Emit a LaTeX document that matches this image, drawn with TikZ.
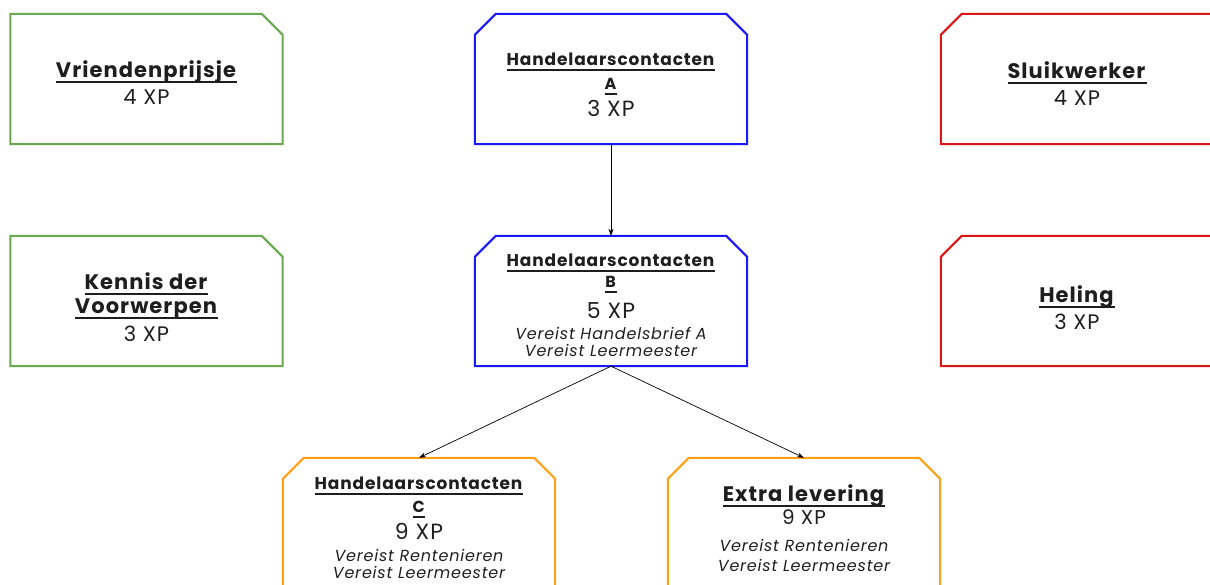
\documentclass[tikz,border=0pt]{standalone}
\usepackage{fontspec}
\setmainfont{Poppins}[LetterSpace=5]
\usetikzlibrary{arrows.meta}

\definecolor{groenrand}{RGB}{106,168,79}
\definecolor{blauwrand}{RGB}{25,25,245}
\definecolor{roodrand}{RGB}{220,20,20}
\definecolor{oranjerand}{RGB}{255,160,20}
\definecolor{inkt}{RGB}{30,30,30}

\newsavebox\titelbox
\newcommand{\titel}[1]{\sbox\titelbox{\textbf{#1}}\rlap{\rule[-4.8pt]{\wd\titelbox}{1.6pt}}\usebox\titelbox}
\newcommand{\groot}[1]{{\fontsize{21}{21}\selectfont\titel{#1}}}
\newcommand{\handel}[1]{{\fontsize{17}{17}\selectfont\titel{#1}}}
\newcommand{\letter}[1]{{\fontsize{16}{16}\selectfont\titel{#1}}}
\newcommand{\xp}[2]{{\fontsize{#1}{#1}\selectfont #2 XP}}
\newcommand{\vereist}[1]{{\fontsize{16}{16}\selectfont\itshape Vereist #1}}
% rand met afgeschuinde hoeken: naam, kleur, schuinte links, schuinte rechts
\newcommand{\vakrand}[4]{\draw[rand, #2] ([yshift=-#3]#1.north west) -- ([xshift=#3]#1.north west)
  -- ([xshift=-#4]#1.north east) -- ([yshift=-#4]#1.north east) -- (#1.south east) -- (#1.south west) -- cycle;}

\begin{document}
\begin{tikzpicture}[>=Stealth, x=1pt, y=-1pt,
  vak/.style={rectangle, inner sep=0pt, minimum width=272pt, minimum height=130pt},
  rand/.style={line width=2pt, line join=miter},
  tekst/.style={anchor=base, align=center, inner sep=0pt, text=inkt,
    font=\fontsize{16}{17}\selectfont\lineskiplimit-100pt},
  pijl/.style={->, line width=0.7pt, >={Stealth[length=7pt,width=5pt]}}]
\useasboundingbox (0,0) rectangle (1210,585);

% linker kolom
\node[vak] (vriend) at (146.5,79) {};
\vakrand{vriend}{groenrand}{0pt}{21pt}
\node[tekst] (vriendT) at ([yshift=-91pt]vriend.north) {\groot{Vriendenprijsje}\\[10pt]\xp{21}{4}};
\node[vak] (kennis) at (146.5,301) {};
\vakrand{kennis}{groenrand}{0pt}{21pt}
\node[tekst] (kennisT) at ([yshift=-106pt]kennis.north) {\groot{Kennis der}\\[7pt]\groot{Voorwerpen}\\[11pt]\xp{21}{3}};

% middelste kolom
\node[vak] (handelA) at (611,79) {};
\vakrand{handelA}{blauwrand}{21pt}{21pt}
\node[tekst] (handelAT) at ([yshift=-103pt]handelA.north) {\handel{Handelaarscontacten}\\[7pt]\letter{A}\\[10pt]\xp{22}{3}};
\node[vak] (handelB) at (611,301) {};
\vakrand{handelB}{blauwrand}{21pt}{21pt}
\node[tekst] (handelBT) at ([yshift=-121pt]handelB.north) {\handel{Handelaarscontacten}\\[4pt]\letter{B}\\[14pt]\xp{22}{5}\\[4pt]\vereist{Handelsbrief A}\\\vereist{Leermeester}};

% rechter kolom
\node[vak] (sluik) at (1077,79) {};
\vakrand{sluik}{roodrand}{21pt}{0pt}
\node[tekst] (sluikT) at ([yshift=-92pt]sluik.north) {\groot{Sluikwerker}\\[10pt]\xp{21}{4}};
\node[vak] (heling) at (1077,301) {};
\vakrand{heling}{roodrand}{21pt}{0pt}
\node[tekst] (helingT) at ([yshift=-94pt]heling.north) {\groot{Heling}\\[10pt]\xp{21}{3}};

% onderste rij
\node[vak] (handelC) at (419,523) {};
\vakrand{handelC}{oranjerand}{21pt}{21pt}
\node[tekst] (handelCT) at ([yshift=-121pt]handelC.north) {\handel{Handelaarscontacten}\\[6pt]\letter{C}\\[10pt]\xp{22}{9}\\[5pt]\vereist{Rentenieren}\\\vereist{Leermeester}};
\node[vak] (extra) at (804,523) {};
\vakrand{extra}{oranjerand}{21pt}{21pt}
\node[tekst] (extraT) at ([yshift=-114pt]extra.north) {\groot{Extra levering}\\[6pt]\xp{20}{9}\\[10pt]\vereist{Rentenieren}\\[3pt]\vereist{Leermeester}};

\draw[pijl] (handelA.south) -- (handelB.north);
\draw[pijl] (handelB.south) -- (handelC.north);
\draw[pijl] (handelB.south) -- (extra.north);
\end{tikzpicture}
\end{document}
